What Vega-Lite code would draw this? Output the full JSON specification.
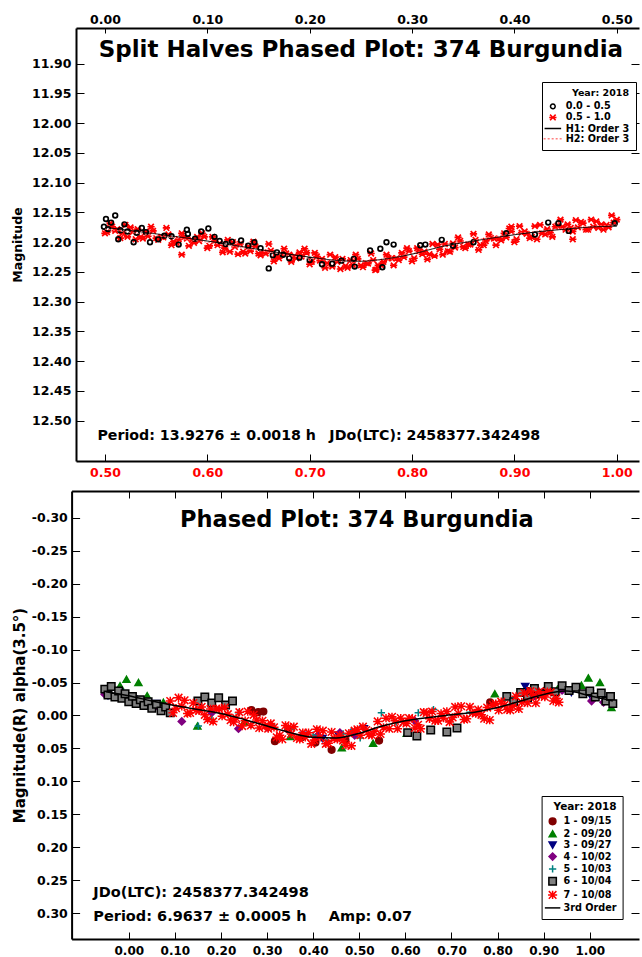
{
"$schema": "https://vega.github.io/schema/vega-lite/v6.json",
"background": "white",
"padding": {"left": 11, "top": 13, "right": 0, "bottom": 0},
"config": {
  "font": "DejaVu Sans",
  "view": {"stroke": null},
  "axis": {"labelFont": "DejaVu Sans", "labelFontWeight": "bold", "labelFontSize": 12.5, "labelColor": "black", "grid": false, "tickColor": "black", "domainColor": "black", "domainWidth": 2, "tickWidth": 1, "labelFlush": false, "labelOverlap": false, "labelBound": false, "titleFont": "DejaVu Sans", "titleFontWeight": "bold", "titleFontSize": 12.5, "titleColor": "black"},
  "legend": {"titleFont": "DejaVu Sans", "titleFontSize": 9.7, "titleFontWeight": "bold", "titleColor": "black", "labelFont": "DejaVu Sans", "labelFontSize": 9.7, "labelFontWeight": "bold", "labelColor": "black", "strokeColor": "black", "fillColor": "white", "padding": 6, "cornerRadius": 0, "symbolStrokeWidth": 1.5, "rowPadding": 3, "labelOffset": 7, "titleAnchor": "end", "titlePadding": 4}
},
"datasets": {
  "tp": [
{"s":"0.5 - 1.0","x":0.502,"y":12.183},{"s":"0.5 - 1.0","x":0.507,"y":12.174},{"s":"0.5 - 1.0","x":0.512,"y":12.178},{"s":"0.5 - 1.0","x":0.517,"y":12.185},{"s":"0.5 - 1.0","x":0.522,"y":12.191},{"s":"0.5 - 1.0","x":0.527,"y":12.183},{"s":"0.5 - 1.0","x":0.532,"y":12.178},{"s":"0.5 - 1.0","x":0.537,"y":12.194},{"s":"0.5 - 1.0","x":0.542,"y":12.190},{"s":"0.5 - 1.0","x":0.547,"y":12.181},
{"s":"0.5 - 1.0","x":0.552,"y":12.196},{"s":"0.5 - 1.0","x":0.557,"y":12.192},{"s":"0.5 - 1.0","x":0.562,"y":12.187},{"s":"0.5 - 1.0","x":0.567,"y":12.199},{"s":"0.5 - 1.0","x":0.572,"y":12.195},{"s":"0.5 - 1.0","x":0.577,"y":12.192},{"s":"0.5 - 1.0","x":0.582,"y":12.206},{"s":"0.5 - 1.0","x":0.587,"y":12.201},{"s":"0.5 - 1.0","x":0.592,"y":12.198},{"s":"0.5 - 1.0","x":0.597,"y":12.191},
{"s":"0.5 - 1.0","x":0.602,"y":12.206},{"s":"0.5 - 1.0","x":0.607,"y":12.198},{"s":"0.5 - 1.0","x":0.612,"y":12.202},{"s":"0.5 - 1.0","x":0.617,"y":12.210},{"s":"0.5 - 1.0","x":0.622,"y":12.216},{"s":"0.5 - 1.0","x":0.627,"y":12.208},{"s":"0.5 - 1.0","x":0.632,"y":12.203},{"s":"0.5 - 1.0","x":0.637,"y":12.219},{"s":"0.5 - 1.0","x":0.642,"y":12.215},{"s":"0.5 - 1.0","x":0.647,"y":12.207},
{"s":"0.5 - 1.0","x":0.652,"y":12.222},{"s":"0.5 - 1.0","x":0.657,"y":12.219},{"s":"0.5 - 1.0","x":0.662,"y":12.214},{"s":"0.5 - 1.0","x":0.667,"y":12.225},{"s":"0.5 - 1.0","x":0.672,"y":12.221},{"s":"0.5 - 1.0","x":0.677,"y":12.219},{"s":"0.5 - 1.0","x":0.682,"y":12.233},{"s":"0.5 - 1.0","x":0.687,"y":12.227},{"s":"0.5 - 1.0","x":0.692,"y":12.224},{"s":"0.5 - 1.0","x":0.697,"y":12.218},
{"s":"0.5 - 1.0","x":0.702,"y":12.233},{"s":"0.5 - 1.0","x":0.707,"y":12.224},{"s":"0.5 - 1.0","x":0.712,"y":12.228},{"s":"0.5 - 1.0","x":0.717,"y":12.235},{"s":"0.5 - 1.0","x":0.722,"y":12.241},{"s":"0.5 - 1.0","x":0.727,"y":12.233},{"s":"0.5 - 1.0","x":0.732,"y":12.228},{"s":"0.5 - 1.0","x":0.737,"y":12.243},{"s":"0.5 - 1.0","x":0.742,"y":12.238},{"s":"0.5 - 1.0","x":0.747,"y":12.228},
{"s":"0.5 - 1.0","x":0.752,"y":12.242},{"s":"0.5 - 1.0","x":0.757,"y":12.236},{"s":"0.5 - 1.0","x":0.762,"y":12.230},{"s":"0.5 - 1.0","x":0.767,"y":12.239},{"s":"0.5 - 1.0","x":0.772,"y":12.233},{"s":"0.5 - 1.0","x":0.777,"y":12.227},{"s":"0.5 - 1.0","x":0.782,"y":12.239},{"s":"0.5 - 1.0","x":0.787,"y":12.230},{"s":"0.5 - 1.0","x":0.792,"y":12.225},{"s":"0.5 - 1.0","x":0.797,"y":12.215},
{"s":"0.5 - 1.0","x":0.802,"y":12.227},{"s":"0.5 - 1.0","x":0.807,"y":12.215},{"s":"0.5 - 1.0","x":0.812,"y":12.216},{"s":"0.5 - 1.0","x":0.817,"y":12.220},{"s":"0.5 - 1.0","x":0.822,"y":12.223},{"s":"0.5 - 1.0","x":0.827,"y":12.212},{"s":"0.5 - 1.0","x":0.832,"y":12.203},{"s":"0.5 - 1.0","x":0.837,"y":12.216},{"s":"0.5 - 1.0","x":0.842,"y":12.209},{"s":"0.5 - 1.0","x":0.847,"y":12.198},
{"s":"0.5 - 1.0","x":0.852,"y":12.210},{"s":"0.5 - 1.0","x":0.857,"y":12.204},{"s":"0.5 - 1.0","x":0.862,"y":12.196},{"s":"0.5 - 1.0","x":0.867,"y":12.205},{"s":"0.5 - 1.0","x":0.872,"y":12.198},{"s":"0.5 - 1.0","x":0.877,"y":12.193},{"s":"0.5 - 1.0","x":0.882,"y":12.205},{"s":"0.5 - 1.0","x":0.887,"y":12.197},{"s":"0.5 - 1.0","x":0.892,"y":12.192},{"s":"0.5 - 1.0","x":0.897,"y":12.182},
{"s":"0.5 - 1.0","x":0.902,"y":12.195},{"s":"0.5 - 1.0","x":0.907,"y":12.184},{"s":"0.5 - 1.0","x":0.912,"y":12.186},{"s":"0.5 - 1.0","x":0.917,"y":12.191},{"s":"0.5 - 1.0","x":0.922,"y":12.195},{"s":"0.5 - 1.0","x":0.927,"y":12.185},{"s":"0.5 - 1.0","x":0.932,"y":12.178},{"s":"0.5 - 1.0","x":0.937,"y":12.191},{"s":"0.5 - 1.0","x":0.942,"y":12.172},{"s":"0.5 - 1.0","x":0.947,"y":12.174},
{"s":"0.5 - 1.0","x":0.952,"y":12.170},{"s":"0.5 - 1.0","x":0.957,"y":12.182},{"s":"0.5 - 1.0","x":0.962,"y":12.175},{"s":"0.5 - 1.0","x":0.967,"y":12.168},{"s":"0.5 - 1.0","x":0.972,"y":12.179},{"s":"0.5 - 1.0","x":0.977,"y":12.174},{"s":"0.5 - 1.0","x":0.982,"y":12.176},{"s":"0.5 - 1.0","x":0.987,"y":12.179},{"s":"0.5 - 1.0","x":0.992,"y":12.175},{"s":"0.5 - 1.0","x":0.997,"y":12.167},
{"s":"0.5 - 1.0","x":0.505,"y":12.168},{"s":"0.5 - 1.0","x":0.515,"y":12.193},{"s":"0.5 - 1.0","x":0.525,"y":12.175},{"s":"0.5 - 1.0","x":0.535,"y":12.191},{"s":"0.5 - 1.0","x":0.545,"y":12.174},{"s":"0.5 - 1.0","x":0.555,"y":12.191},{"s":"0.5 - 1.0","x":0.565,"y":12.205},{"s":"0.5 - 1.0","x":0.575,"y":12.185},{"s":"0.5 - 1.0","x":0.585,"y":12.196},{"s":"0.5 - 1.0","x":0.595,"y":12.185},
{"s":"0.5 - 1.0","x":0.605,"y":12.191},{"s":"0.5 - 1.0","x":0.615,"y":12.217},{"s":"0.5 - 1.0","x":0.625,"y":12.200},{"s":"0.5 - 1.0","x":0.635,"y":12.216},{"s":"0.5 - 1.0","x":0.645,"y":12.199},{"s":"0.5 - 1.0","x":0.655,"y":12.217},{"s":"0.5 - 1.0","x":0.665,"y":12.232},{"s":"0.5 - 1.0","x":0.675,"y":12.211},{"s":"0.5 - 1.0","x":0.685,"y":12.223},{"s":"0.5 - 1.0","x":0.695,"y":12.211},
{"s":"0.5 - 1.0","x":0.705,"y":12.218},{"s":"0.5 - 1.0","x":0.715,"y":12.243},{"s":"0.5 - 1.0","x":0.725,"y":12.225},{"s":"0.5 - 1.0","x":0.735,"y":12.240},{"s":"0.5 - 1.0","x":0.745,"y":12.221},{"s":"0.5 - 1.0","x":0.755,"y":12.235},{"s":"0.5 - 1.0","x":0.765,"y":12.246},{"s":"0.5 - 1.0","x":0.775,"y":12.221},{"s":"0.5 - 1.0","x":0.785,"y":12.227},{"s":"0.5 - 1.0","x":0.795,"y":12.210},
{"s":"0.5 - 1.0","x":0.805,"y":12.210},{"s":"0.5 - 1.0","x":0.815,"y":12.229},{"s":"0.5 - 1.0","x":0.825,"y":12.204},{"s":"0.5 - 1.0","x":0.835,"y":12.215},{"s":"0.5 - 1.0","x":0.845,"y":12.192},{"s":"0.5 - 1.0","x":0.855,"y":12.204},{"s":"0.5 - 1.0","x":0.865,"y":12.213},{"s":"0.5 - 1.0","x":0.875,"y":12.187},{"s":"0.5 - 1.0","x":0.885,"y":12.194},{"s":"0.5 - 1.0","x":0.895,"y":12.177},
{"s":"0.5 - 1.0","x":0.905,"y":12.173},{"s":"0.5 - 1.0","x":0.915,"y":12.193},{"s":"0.5 - 1.0","x":0.925,"y":12.171},{"s":"0.5 - 1.0","x":0.935,"y":12.184},{"s":"0.5 - 1.0","x":0.945,"y":12.162},{"s":"0.5 - 1.0","x":0.955,"y":12.176},{"s":"0.5 - 1.0","x":0.965,"y":12.166},{"s":"0.5 - 1.0","x":0.975,"y":12.162},{"s":"0.5 - 1.0","x":0.985,"y":12.170},{"s":"0.5 - 1.0","x":0.995,"y":12.155},
{"s":"0.5 - 1.0","x":0.510,"y":12.181},{"s":"0.5 - 1.0","x":0.520,"y":12.171},{"s":"0.5 - 1.0","x":0.530,"y":12.195},{"s":"0.5 - 1.0","x":0.540,"y":12.182},{"s":"0.5 - 1.0","x":0.550,"y":12.193},{"s":"0.5 - 1.0","x":0.560,"y":12.176},{"s":"0.5 - 1.0","x":0.570,"y":12.201},{"s":"0.5 - 1.0","x":0.580,"y":12.194},{"s":"0.5 - 1.0","x":0.590,"y":12.191},{"s":"0.5 - 1.0","x":0.600,"y":12.210},
{"s":"0.5 - 1.0","x":0.610,"y":12.205},{"s":"0.5 - 1.0","x":0.620,"y":12.196},{"s":"0.5 - 1.0","x":0.630,"y":12.220},{"s":"0.5 - 1.0","x":0.640,"y":12.207},{"s":"0.5 - 1.0","x":0.650,"y":12.219},{"s":"0.5 - 1.0","x":0.660,"y":12.203},{"s":"0.5 - 1.0","x":0.670,"y":12.227},{"s":"0.5 - 1.0","x":0.680,"y":12.221},{"s":"0.5 - 1.0","x":0.690,"y":12.217},{"s":"0.5 - 1.0","x":0.700,"y":12.237},
{"s":"0.5 - 1.0","x":0.710,"y":12.231},{"s":"0.5 - 1.0","x":0.720,"y":12.221},{"s":"0.5 - 1.0","x":0.730,"y":12.245},{"s":"0.5 - 1.0","x":0.740,"y":12.230},{"s":"0.5 - 1.0","x":0.750,"y":12.239},{"s":"0.5 - 1.0","x":0.760,"y":12.219},{"s":"0.5 - 1.0","x":0.770,"y":12.239},{"s":"0.5 - 1.0","x":0.780,"y":12.227},{"s":"0.5 - 1.0","x":0.790,"y":12.218},{"s":"0.5 - 1.0","x":0.800,"y":12.232},
{"s":"0.5 - 1.0","x":0.810,"y":12.220},{"s":"0.5 - 1.0","x":0.820,"y":12.203},{"s":"0.5 - 1.0","x":0.830,"y":12.221},{"s":"0.5 - 1.0","x":0.840,"y":12.202},{"s":"0.5 - 1.0","x":0.850,"y":12.208},{"s":"0.5 - 1.0","x":0.860,"y":12.186},{"s":"0.5 - 1.0","x":0.870,"y":12.205},{"s":"0.5 - 1.0","x":0.880,"y":12.194},{"s":"0.5 - 1.0","x":0.890,"y":12.185},{"s":"0.5 - 1.0","x":0.900,"y":12.200},
{"s":"0.5 - 1.0","x":0.910,"y":12.182},{"s":"0.5 - 1.0","x":0.920,"y":12.173},{"s":"0.5 - 1.0","x":0.930,"y":12.187},{"s":"0.5 - 1.0","x":0.940,"y":12.174},{"s":"0.5 - 1.0","x":0.950,"y":12.179},{"s":"0.5 - 1.0","x":0.960,"y":12.163},{"s":"0.5 - 1.0","x":0.970,"y":12.179},{"s":"0.5 - 1.0","x":0.980,"y":12.165},{"s":"0.5 - 1.0","x":0.990,"y":12.171},{"s":"0.5 - 1.0","x":1.000,"y":12.162},
{"s":"0.5 - 1.0","x":0.575,"y":12.221},{"s":"0.5 - 1.0","x":0.764,"y":12.247},{"s":"0.5 - 1.0","x":0.957,"y":12.195},{"s":"0.5 - 1.0","x":0.897,"y":12.174},{"s":"0.5 - 1.0","x":0.500,"y":12.185},
{"s":"0.0 - 0.5","x":0.499,"y":12.174},{"s":"0.0 - 0.5","x":0.501,"y":12.161},{"s":"0.0 - 0.5","x":0.503,"y":12.178},{"s":"0.0 - 0.5","x":0.506,"y":12.167},{"s":"0.0 - 0.5","x":0.510,"y":12.155},{"s":"0.0 - 0.5","x":0.513,"y":12.195},{"s":"0.0 - 0.5","x":0.515,"y":12.180},{"s":"0.0 - 0.5","x":0.519,"y":12.170},{"s":"0.0 - 0.5","x":0.522,"y":12.182},{"s":"0.0 - 0.5","x":0.528,"y":12.200},
{"s":"0.0 - 0.5","x":0.531,"y":12.184},{"s":"0.0 - 0.5","x":0.536,"y":12.176},{"s":"0.0 - 0.5","x":0.540,"y":12.183},{"s":"0.0 - 0.5","x":0.544,"y":12.200},{"s":"0.0 - 0.5","x":0.552,"y":12.195},{"s":"0.0 - 0.5","x":0.558,"y":12.189},{"s":"0.0 - 0.5","x":0.565,"y":12.190},{"s":"0.0 - 0.5","x":0.572,"y":12.204},{"s":"0.0 - 0.5","x":0.580,"y":12.179},{"s":"0.0 - 0.5","x":0.581,"y":12.186},
{"s":"0.0 - 0.5","x":0.588,"y":12.194},{"s":"0.0 - 0.5","x":0.594,"y":12.182},{"s":"0.0 - 0.5","x":0.601,"y":12.177},{"s":"0.0 - 0.5","x":0.607,"y":12.191},{"s":"0.0 - 0.5","x":0.612,"y":12.198},{"s":"0.0 - 0.5","x":0.618,"y":12.203},{"s":"0.0 - 0.5","x":0.624,"y":12.199},{"s":"0.0 - 0.5","x":0.633,"y":12.197},{"s":"0.0 - 0.5","x":0.640,"y":12.206},{"s":"0.0 - 0.5","x":0.646,"y":12.200},
{"s":"0.0 - 0.5","x":0.652,"y":12.210},{"s":"0.0 - 0.5","x":0.660,"y":12.244},{"s":"0.0 - 0.5","x":0.664,"y":12.222},{"s":"0.0 - 0.5","x":0.668,"y":12.217},{"s":"0.0 - 0.5","x":0.674,"y":12.221},{"s":"0.0 - 0.5","x":0.680,"y":12.227},{"s":"0.0 - 0.5","x":0.690,"y":12.226},{"s":"0.0 - 0.5","x":0.700,"y":12.230},{"s":"0.0 - 0.5","x":0.712,"y":12.237},{"s":"0.0 - 0.5","x":0.722,"y":12.236},
{"s":"0.0 - 0.5","x":0.731,"y":12.231},{"s":"0.0 - 0.5","x":0.743,"y":12.228},{"s":"0.0 - 0.5","x":0.744,"y":12.241},{"s":"0.0 - 0.5","x":0.759,"y":12.214},{"s":"0.0 - 0.5","x":0.769,"y":12.211},{"s":"0.0 - 0.5","x":0.771,"y":12.242},{"s":"0.0 - 0.5","x":0.775,"y":12.200},{"s":"0.0 - 0.5","x":0.782,"y":12.204},{"s":"0.0 - 0.5","x":0.808,"y":12.205},{"s":"0.0 - 0.5","x":0.813,"y":12.204},
{"s":"0.0 - 0.5","x":0.829,"y":12.196},{"s":"0.0 - 0.5","x":0.840,"y":12.206},{"s":"0.0 - 0.5","x":0.860,"y":12.200},{"s":"0.0 - 0.5","x":0.892,"y":12.185},{"s":"0.0 - 0.5","x":0.920,"y":12.187},{"s":"0.0 - 0.5","x":0.933,"y":12.167},{"s":"0.0 - 0.5","x":0.943,"y":12.168},{"s":"0.0 - 0.5","x":0.953,"y":12.181},{"s":"0.0 - 0.5","x":0.998,"y":12.168}
  ],
  "tf": [
{"s":"H2: Order 3","x":0.50,"y":12.178},{"s":"H2: Order 3","x":0.55,"y":12.189},{"s":"H2: Order 3","x":0.60,"y":12.200},{"s":"H2: Order 3","x":0.65,"y":12.214},{"s":"H2: Order 3","x":0.70,"y":12.227},{"s":"H2: Order 3","x":0.75,"y":12.233},{"s":"H2: Order 3","x":0.80,"y":12.219},{"s":"H2: Order 3","x":0.85,"y":12.200},{"s":"H2: Order 3","x":0.90,"y":12.186},{"s":"H2: Order 3","x":0.95,"y":12.177},{"s":"H2: Order 3","x":1.00,"y":12.171},
{"s":"H1: Order 3","x":0.50,"y":12.175},{"s":"H1: Order 3","x":0.55,"y":12.186},{"s":"H1: Order 3","x":0.60,"y":12.198},{"s":"H1: Order 3","x":0.65,"y":12.212},{"s":"H1: Order 3","x":0.70,"y":12.225},{"s":"H1: Order 3","x":0.73,"y":12.231},{"s":"H1: Order 3","x":0.75,"y":12.232},{"s":"H1: Order 3","x":0.77,"y":12.229},{"s":"H1: Order 3","x":0.80,"y":12.220},{"s":"H1: Order 3","x":0.83,"y":12.207},{"s":"H1: Order 3","x":0.86,"y":12.198},{"s":"H1: Order 3","x":0.89,"y":12.190},{"s":"H1: Order 3","x":0.92,"y":12.183},{"s":"H1: Order 3","x":0.95,"y":12.178},{"s":"H1: Order 3","x":0.98,"y":12.174},{"s":"H1: Order 3","x":1.00,"y":12.173}
  ],
  "bp": [
{"s":"1 - 09/15","x":0.266,"y":-0.008},{"s":"1 - 09/15","x":0.281,"y":-0.005},{"s":"1 - 09/15","x":0.292,"y":-0.006},{"s":"1 - 09/15","x":0.317,"y":0.039},{"s":"1 - 09/15","x":0.346,"y":0.021},{"s":"1 - 09/15","x":0.375,"y":0.033},{"s":"1 - 09/15","x":0.405,"y":0.041},{"s":"1 - 09/15","x":0.440,"y":0.052},{"s":"1 - 09/15","x":0.470,"y":0.037},{"s":"1 - 09/15","x":0.543,"y":0.038},{"s":"1 - 09/15","x":0.784,"y":-0.020},{"s":"1 - 09/15","x":0.867,"y":-0.037},{"s":"1 - 09/15","x":0.880,"y":-0.030},{"s":"1 - 09/15","x":0.905,"y":-0.038},
{"s":"2 - 09/20","x":-0.019,"y":-0.045},{"s":"2 - 09/20","x":-0.005,"y":-0.055},{"s":"2 - 09/20","x":0.021,"y":-0.050},{"s":"2 - 09/20","x":0.040,"y":-0.030},{"s":"2 - 09/20","x":0.075,"y":-0.020},{"s":"2 - 09/20","x":0.149,"y":0.016},{"s":"2 - 09/20","x":0.250,"y":0.010},{"s":"2 - 09/20","x":0.350,"y":0.032},{"s":"2 - 09/20","x":0.462,"y":0.049},{"s":"2 - 09/20","x":0.530,"y":0.042},{"s":"2 - 09/20","x":0.603,"y":0.027},{"s":"2 - 09/20","x":0.794,"y":-0.033},{"s":"2 - 09/20","x":0.930,"y":-0.040},{"s":"2 - 09/20","x":0.982,"y":-0.046},{"s":"2 - 09/20","x":0.997,"y":-0.057},{"s":"2 - 09/20","x":1.022,"y":-0.050},{"s":"2 - 09/20","x":1.047,"y":-0.012},
{"s":"3 - 09/27","x":-0.045,"y":-0.030},{"s":"3 - 09/27","x":-0.020,"y":-0.035},{"s":"3 - 09/27","x":0.010,"y":-0.025},{"s":"3 - 09/27","x":0.060,"y":-0.018},{"s":"3 - 09/27","x":0.380,"y":0.030},{"s":"3 - 09/27","x":0.420,"y":0.035},{"s":"3 - 09/27","x":0.455,"y":0.030},{"s":"3 - 09/27","x":0.490,"y":0.026},{"s":"3 - 09/27","x":0.510,"y":0.020},{"s":"3 - 09/27","x":0.860,"y":-0.044},{"s":"3 - 09/27","x":0.890,"y":-0.035},{"s":"3 - 09/27","x":0.960,"y":-0.035},{"s":"3 - 09/27","x":1.000,"y":-0.032},{"s":"3 - 09/27","x":1.040,"y":-0.024},
{"s":"4 - 10/02","x":-0.052,"y":-0.032},{"s":"4 - 10/02","x":-0.001,"y":-0.022},{"s":"4 - 10/02","x":0.060,"y":-0.015},{"s":"4 - 10/02","x":0.115,"y":0.009},{"s":"4 - 10/02","x":0.180,"y":-0.004},{"s":"4 - 10/02","x":0.238,"y":0.020},{"s":"4 - 10/02","x":0.300,"y":0.018},{"s":"4 - 10/02","x":0.410,"y":0.030},{"s":"4 - 10/02","x":0.458,"y":0.026},{"s":"4 - 10/02","x":0.490,"y":0.030},{"s":"4 - 10/02","x":0.620,"y":0.008},{"s":"4 - 10/02","x":0.880,"y":-0.030},{"s":"4 - 10/02","x":0.940,"y":-0.038},{"s":"4 - 10/02","x":1.004,"y":-0.022},{"s":"4 - 10/02","x":1.030,"y":-0.020},
{"s":"5 - 10/03","x":0.151,"y":0.016},{"s":"5 - 10/03","x":0.180,"y":0.006},{"s":"5 - 10/03","x":0.238,"y":-0.004},{"s":"5 - 10/03","x":0.310,"y":0.014},{"s":"5 - 10/03","x":0.353,"y":0.021},{"s":"5 - 10/03","x":0.400,"y":0.030},{"s":"5 - 10/03","x":0.430,"y":0.038},{"s":"5 - 10/03","x":0.465,"y":0.028},{"s":"5 - 10/03","x":0.483,"y":0.024},{"s":"5 - 10/03","x":0.502,"y":0.034},{"s":"5 - 10/03","x":0.548,"y":-0.004},{"s":"5 - 10/03","x":0.580,"y":0.010},{"s":"5 - 10/03","x":0.628,"y":-0.004},{"s":"5 - 10/03","x":0.661,"y":-0.009},{"s":"5 - 10/03","x":0.700,"y":0.003},{"s":"5 - 10/03","x":0.740,"y":-0.005},
{"s":"6 - 10/04","x":-0.052,"y":-0.040},{"s":"6 - 10/04","x":-0.045,"y":-0.031},{"s":"6 - 10/04","x":-0.038,"y":-0.044},{"s":"6 - 10/04","x":-0.030,"y":-0.028},{"s":"6 - 10/04","x":-0.022,"y":-0.037},{"s":"6 - 10/04","x":-0.015,"y":-0.026},{"s":"6 - 10/04","x":-0.008,"y":-0.033},{"s":"6 - 10/04","x":0.000,"y":-0.021},{"s":"6 - 10/04","x":0.008,"y":-0.029},{"s":"6 - 10/04","x":0.016,"y":-0.018},{"s":"6 - 10/04","x":0.025,"y":-0.024},{"s":"6 - 10/04","x":0.033,"y":-0.015},{"s":"6 - 10/04","x":0.042,"y":-0.021},{"s":"6 - 10/04","x":0.050,"y":-0.011},{"s":"6 - 10/04","x":0.060,"y":-0.017},{"s":"6 - 10/04","x":0.070,"y":-0.007},{"s":"6 - 10/04","x":0.080,"y":-0.013},{"s":"6 - 10/04","x":0.090,"y":-0.004},
{"s":"6 - 10/04","x":0.150,"y":-0.022},{"s":"6 - 10/04","x":0.165,"y":-0.028},{"s":"6 - 10/04","x":0.180,"y":-0.019},{"s":"6 - 10/04","x":0.195,"y":-0.027},{"s":"6 - 10/04","x":0.210,"y":-0.016},{"s":"6 - 10/04","x":0.225,"y":-0.022},{"s":"6 - 10/04","x":0.605,"y":0.026},{"s":"6 - 10/04","x":0.625,"y":0.031},{"s":"6 - 10/04","x":0.655,"y":0.022},{"s":"6 - 10/04","x":0.690,"y":0.025},{"s":"6 - 10/04","x":0.712,"y":0.019},
{"s":"6 - 10/04","x":0.820,"y":-0.029},{"s":"6 - 10/04","x":0.835,"y":-0.021},{"s":"6 - 10/04","x":0.850,"y":-0.035},{"s":"6 - 10/04","x":0.865,"y":-0.027},{"s":"6 - 10/04","x":0.880,"y":-0.041},{"s":"6 - 10/04","x":0.895,"y":-0.033},{"s":"6 - 10/04","x":0.910,"y":-0.044},{"s":"6 - 10/04","x":0.925,"y":-0.036},{"s":"6 - 10/04","x":0.940,"y":-0.045},{"s":"6 - 10/04","x":0.955,"y":-0.038},{"s":"6 - 10/04","x":0.970,"y":-0.043},{"s":"6 - 10/04","x":0.985,"y":-0.033},{"s":"6 - 10/04","x":1.000,"y":-0.037},{"s":"6 - 10/04","x":1.012,"y":-0.028},{"s":"6 - 10/04","x":1.025,"y":-0.034},{"s":"6 - 10/04","x":1.035,"y":-0.022},{"s":"6 - 10/04","x":1.045,"y":-0.029},{"s":"6 - 10/04","x":1.050,"y":-0.018},
{"s":"7 - 10/08","x":0.090,"y":-0.022},{"s":"7 - 10/08","x":0.1025,"y":-0.011},{"s":"7 - 10/08","x":0.115,"y":-0.014},{"s":"7 - 10/08","x":0.1275,"y":-0.003},{"s":"7 - 10/08","x":0.140,"y":-0.019},{"s":"7 - 10/08","x":0.1525,"y":-0.007},{"s":"7 - 10/08","x":0.165,"y":-0.001},{"s":"7 - 10/08","x":0.1775,"y":-0.010},{"s":"7 - 10/08","x":0.190,"y":-0.010},{"s":"7 - 10/08","x":0.2025,"y":0.001},
{"s":"7 - 10/08","x":0.215,"y":-0.002},{"s":"7 - 10/08","x":0.2275,"y":0.010},{"s":"7 - 10/08","x":0.240,"y":-0.005},{"s":"7 - 10/08","x":0.2525,"y":0.008},{"s":"7 - 10/08","x":0.265,"y":0.015},{"s":"7 - 10/08","x":0.2775,"y":0.007},{"s":"7 - 10/08","x":0.290,"y":0.008},{"s":"7 - 10/08","x":0.3025,"y":0.020},{"s":"7 - 10/08","x":0.315,"y":0.018},{"s":"7 - 10/08","x":0.3275,"y":0.030},
{"s":"7 - 10/08","x":0.340,"y":0.015},{"s":"7 - 10/08","x":0.3525,"y":0.028},{"s":"7 - 10/08","x":0.365,"y":0.034},{"s":"7 - 10/08","x":0.3775,"y":0.026},{"s":"7 - 10/08","x":0.390,"y":0.026},{"s":"7 - 10/08","x":0.4025,"y":0.037},{"s":"7 - 10/08","x":0.415,"y":0.033},{"s":"7 - 10/08","x":0.4275,"y":0.043},{"s":"7 - 10/08","x":0.440,"y":0.025},{"s":"7 - 10/08","x":0.4525,"y":0.036},
{"s":"7 - 10/08","x":0.465,"y":0.038},{"s":"7 - 10/08","x":0.4775,"y":0.027},{"s":"7 - 10/08","x":0.490,"y":0.023},{"s":"7 - 10/08","x":0.5025,"y":0.030},{"s":"7 - 10/08","x":0.515,"y":0.022},{"s":"7 - 10/08","x":0.5275,"y":0.030},{"s":"7 - 10/08","x":0.540,"y":0.009},{"s":"7 - 10/08","x":0.5525,"y":0.018},{"s":"7 - 10/08","x":0.565,"y":0.020},{"s":"7 - 10/08","x":0.5775,"y":0.008},
{"s":"7 - 10/08","x":0.590,"y":0.004},{"s":"7 - 10/08","x":0.6025,"y":0.012},{"s":"7 - 10/08","x":0.615,"y":0.005},{"s":"7 - 10/08","x":0.6275,"y":0.014},{"s":"7 - 10/08","x":0.640,"y":-0.005},{"s":"7 - 10/08","x":0.6525,"y":0.005},{"s":"7 - 10/08","x":0.665,"y":0.008},{"s":"7 - 10/08","x":0.6775,"y":-0.003},{"s":"7 - 10/08","x":0.690,"y":-0.006},{"s":"7 - 10/08","x":0.7025,"y":0.003},
{"s":"7 - 10/08","x":0.715,"y":-0.003},{"s":"7 - 10/08","x":0.7275,"y":0.006},{"s":"7 - 10/08","x":0.740,"y":-0.013},{"s":"7 - 10/08","x":0.7525,"y":-0.003},{"s":"7 - 10/08","x":0.765,"y":-0.001},{"s":"7 - 10/08","x":0.7775,"y":-0.012},{"s":"7 - 10/08","x":0.790,"y":-0.016},{"s":"7 - 10/08","x":0.8025,"y":-0.008},{"s":"7 - 10/08","x":0.815,"y":-0.016},{"s":"7 - 10/08","x":0.8275,"y":-0.008},
{"s":"7 - 10/08","x":0.840,"y":-0.029},{"s":"7 - 10/08","x":0.8525,"y":-0.020},{"s":"7 - 10/08","x":0.865,"y":-0.019},{"s":"7 - 10/08","x":0.8775,"y":-0.031},{"s":"7 - 10/08","x":0.890,"y":-0.036},{"s":"7 - 10/08","x":0.9025,"y":-0.028},{"s":"7 - 10/08","x":0.915,"y":-0.035},{"s":"7 - 10/08","x":0.9275,"y":-0.026},
{"s":"7 - 10/08","x":0.096,"y":-0.004},{"s":"7 - 10/08","x":0.121,"y":-0.023},{"s":"7 - 10/08","x":0.146,"y":-0.008},{"s":"7 - 10/08","x":0.171,"y":0.006},{"s":"7 - 10/08","x":0.196,"y":-0.010},{"s":"7 - 10/08","x":0.221,"y":0.007},{"s":"7 - 10/08","x":0.246,"y":0.016},{"s":"7 - 10/08","x":0.271,"y":-0.001},{"s":"7 - 10/08","x":0.296,"y":0.016},{"s":"7 - 10/08","x":0.321,"y":0.033},
{"s":"7 - 10/08","x":0.346,"y":0.018},{"s":"7 - 10/08","x":0.371,"y":0.036},{"s":"7 - 10/08","x":0.396,"y":0.043},{"s":"7 - 10/08","x":0.421,"y":0.023},{"s":"7 - 10/08","x":0.446,"y":0.035},{"s":"7 - 10/08","x":0.471,"y":0.045},{"s":"7 - 10/08","x":0.496,"y":0.021},{"s":"7 - 10/08","x":0.521,"y":0.029},{"s":"7 - 10/08","x":0.546,"y":0.028},{"s":"7 - 10/08","x":0.571,"y":0.002},
{"s":"7 - 10/08","x":0.596,"y":0.010},{"s":"7 - 10/08","x":0.621,"y":0.019},{"s":"7 - 10/08","x":0.646,"y":-0.004},{"s":"7 - 10/08","x":0.671,"y":0.008},{"s":"7 - 10/08","x":0.696,"y":0.010},{"s":"7 - 10/08","x":0.721,"y":-0.014},{"s":"7 - 10/08","x":0.746,"y":-0.004},{"s":"7 - 10/08","x":0.771,"y":0.005},{"s":"7 - 10/08","x":0.796,"y":-0.018},{"s":"7 - 10/08","x":0.821,"y":-0.009},
{"s":"7 - 10/08","x":0.846,"y":-0.010},{"s":"7 - 10/08","x":0.871,"y":-0.037},{"s":"7 - 10/08","x":0.896,"y":-0.030},{"s":"7 - 10/08","x":0.921,"y":-0.022},
{"s":"7 - 10/08","x":0.108,"y":-0.027},{"s":"7 - 10/08","x":0.133,"y":-0.004},{"s":"7 - 10/08","x":0.158,"y":-0.013},{"s":"7 - 10/08","x":0.183,"y":0.009},{"s":"7 - 10/08","x":0.208,"y":-0.012},{"s":"7 - 10/08","x":0.233,"y":0.004},{"s":"7 - 10/08","x":0.258,"y":-0.006},{"s":"7 - 10/08","x":0.283,"y":0.019},{"s":"7 - 10/08","x":0.308,"y":0.012},{"s":"7 - 10/08","x":0.333,"y":0.036},
{"s":"7 - 10/08","x":0.358,"y":0.017},{"s":"7 - 10/08","x":0.383,"y":0.033},{"s":"7 - 10/08","x":0.408,"y":0.021},{"s":"7 - 10/08","x":0.433,"y":0.042},{"s":"7 - 10/08","x":0.458,"y":0.030},{"s":"7 - 10/08","x":0.483,"y":0.046},{"s":"7 - 10/08","x":0.508,"y":0.017},{"s":"7 - 10/08","x":0.533,"y":0.024},{"s":"7 - 10/08","x":0.558,"y":0.004},{"s":"7 - 10/08","x":0.583,"y":0.020},
{"s":"7 - 10/08","x":0.608,"y":0.004},{"s":"7 - 10/08","x":0.633,"y":0.020},{"s":"7 - 10/08","x":0.658,"y":-0.006},{"s":"7 - 10/08","x":0.683,"y":0.004},{"s":"7 - 10/08","x":0.708,"y":-0.013},{"s":"7 - 10/08","x":0.733,"y":0.005},{"s":"7 - 10/08","x":0.758,"y":-0.009},{"s":"7 - 10/08","x":0.783,"y":0.007},{"s":"7 - 10/08","x":0.808,"y":-0.021},{"s":"7 - 10/08","x":0.833,"y":-0.014},
{"s":"7 - 10/08","x":0.858,"y":-0.034},{"s":"7 - 10/08","x":0.883,"y":-0.019},{"s":"7 - 10/08","x":0.908,"y":-0.036},{"s":"7 - 10/08","x":0.933,"y":-0.020}
  ],
  "bf": [
{"s":"3rd Order","x":-0.05,"y":-0.036},{"s":"3rd Order","x":0.00,"y":-0.030},{"s":"3rd Order","x":0.05,"y":-0.022},{"s":"3rd Order","x":0.10,"y":-0.015},{"s":"3rd Order","x":0.15,"y":-0.009},{"s":"3rd Order","x":0.20,"y":-0.003},{"s":"3rd Order","x":0.25,"y":0.006},{"s":"3rd Order","x":0.30,"y":0.016},{"s":"3rd Order","x":0.35,"y":0.026},{"s":"3rd Order","x":0.40,"y":0.033},{"s":"3rd Order","x":0.45,"y":0.034},{"s":"3rd Order","x":0.50,"y":0.027},
{"s":"3rd Order","x":0.55,"y":0.016},{"s":"3rd Order","x":0.60,"y":0.008},{"s":"3rd Order","x":0.65,"y":0.003},{"s":"3rd Order","x":0.70,"y":-0.001},{"s":"3rd Order","x":0.75,"y":-0.005},{"s":"3rd Order","x":0.80,"y":-0.012},{"s":"3rd Order","x":0.85,"y":-0.022},{"s":"3rd Order","x":0.90,"y":-0.032},{"s":"3rd Order","x":0.95,"y":-0.037},{"s":"3rd Order","x":1.00,"y":-0.030},{"s":"3rd Order","x":1.05,"y":-0.022}
  ]
},
"concat": [
  {
    "width": 563, "height": 433,
    "layer": [
      {
        "data": {"name": "tp"},
        "mark": {"type": "point", "filled": false, "strokeWidth": 1.7, "opacity": 1},
        "encoding": {
          "x": {"field": "x", "type": "quantitative", "scale": {"domain": [0.4717, 1.0217], "nice": false, "zero": false}, "axis": {"orient": "bottom", "values": [0.5, 0.6, 0.7, 0.8, 0.9, 1], "format": ".2f", "labelColor": "red", "tickSize": -7, "labelPadding": 12, "title": null}},
          "y": {"field": "y", "type": "quantitative", "scale": {"domain": [11.84, 12.5677], "reverse": true, "nice": false, "zero": false}, "axis": {"orient": "left", "values": [11.9, 11.95, 12.0, 12.05, 12.1, 12.15, 12.2, 12.25, 12.3, 12.35, 12.4, 12.45, 12.5], "format": ".2f", "tickSize": -8, "labelPadding": 13, "title": "Magnitude", "titlePadding": 7}},
          "color": {"field": "s", "type": "nominal", "scale": {"domain": ["0.0 - 0.5", "0.5 - 1.0", "H1: Order 3", "H2: Order 3"], "range": ["black", "red", "black", "#ff8080"]}, "legend": {"title": "Year: 2018", "orient": "none", "legendX": 466, "legendY": 54, "titleFontSize": 9.5, "padding": 6, "labelOffset": 8, "rowPadding": -0.9}},
          "shape": {"field": "s", "type": "nominal", "scale": {"domain": ["0.0 - 0.5", "0.5 - 1.0", "H1: Order 3", "H2: Order 3"], "range": ["circle", "M-1,-1L1,1M1,-1L-1,1M-1.3,0L1.3,0", "M-2.6,0L2.6,0", "M-2.6,0L2.6,0"]}, "legend": {"title": "Year: 2018", "orient": "none", "legendX": 466, "legendY": 54, "titleFontSize": 9.5, "padding": 6, "labelOffset": 8, "rowPadding": -0.9}},
          "size": {"field": "s", "type": "nominal", "scale": {"domain": ["0.0 - 0.5", "0.5 - 1.0", "H1: Order 3", "H2: Order 3"], "range": [22, 50, 50, 50]}, "legend": {"title": "Year: 2018", "orient": "none", "legendX": 466, "legendY": 54, "titleFontSize": 9.5, "padding": 6, "labelOffset": 8, "rowPadding": -0.9}}
        }
      },
      {
        "data": {"name": "tf"},
        "mark": {"type": "line", "strokeWidth": 1, "interpolate": "monotone"},
        "encoding": {
          "x": {"field": "x", "type": "quantitative", "scale": {"domain": [0.4717, 1.0217], "nice": false, "zero": false}, "axis": {"orient": "top", "values": [0.5, 0.6, 0.7, 0.8, 0.9, 1], "labelExpr": "format(datum.value - 0.5, '.2f')", "tickSize": -5, "labelPadding": 7, "title": null}},
          "y": {"field": "y", "type": "quantitative", "scale": {"domain": [11.84, 12.5677], "reverse": true, "nice": false, "zero": false}, "axis": {"orient": "right", "values": [11.9, 11.95, 12.0, 12.05, 12.1, 12.15, 12.2, 12.25, 12.3, 12.35, 12.4, 12.45, 12.5], "labels": false, "domain": false, "tickSize": -8, "title": null}},
          "color": {"field": "s", "type": "nominal", "scale": {"domain": ["0.0 - 0.5", "0.5 - 1.0", "H1: Order 3", "H2: Order 3"], "range": ["black", "red", "black", "#ff8080"]}, "legend": {"title": "Year: 2018", "orient": "none", "legendX": 466, "legendY": 54, "titleFontSize": 9.5, "padding": 6, "labelOffset": 8, "rowPadding": -0.9}},
          "strokeDash": {"field": "s", "type": "nominal", "scale": {"domain": ["0.0 - 0.5", "0.5 - 1.0", "H1: Order 3", "H2: Order 3"], "range": [[1, 0], [1, 0], [1, 0], [2, 2]]}, "legend": {"title": "Year: 2018", "orient": "none", "legendX": 466, "legendY": 54, "titleFontSize": 9.5, "padding": 6, "labelOffset": 8, "rowPadding": -0.9}}
        }
      },
      {
        "data": {"values": [{}]},
        "mark": {"type": "text", "font": "DejaVu Sans", "fontWeight": "bold", "fontSize": 23, "align": "center", "baseline": "alphabetic", "color": "black"},
        "encoding": {
          "x": {"datum": 0.75, "type": "quantitative", "scale": {"domain": [0.4717, 1.0217], "nice": false, "zero": false}, "axis": null},
          "y": {"datum": 11.8894, "type": "quantitative", "scale": {"domain": [11.84, 12.5677], "reverse": true, "nice": false, "zero": false}, "axis": null},
          "text": {"value": "Split Halves Phased Plot: 374 Burgundia"}
        }
      },
      {
        "data": {"values": [{}]},
        "mark": {"type": "text", "font": "DejaVu Sans", "fontWeight": "bold", "fontSize": 14.2, "align": "left", "baseline": "middle", "color": "black"},
        "encoding": {
          "x": {"datum": 0.4926, "type": "quantitative", "scale": {"domain": [0.4717, 1.0217], "nice": false, "zero": false}, "axis": null},
          "y": {"datum": 12.525, "type": "quantitative", "scale": {"domain": [11.84, 12.5677], "reverse": true, "nice": false, "zero": false}, "axis": null},
          "text": {"value": "Period: 13.9276 ± 0.0018 h"}
        }
      },
      {
        "data": {"values": [{}]},
        "mark": {"type": "text", "font": "DejaVu Sans", "fontWeight": "bold", "fontSize": 14.2, "align": "left", "baseline": "middle", "color": "black"},
        "encoding": {
          "x": {"datum": 0.7192, "type": "quantitative", "scale": {"domain": [0.4717, 1.0217], "nice": false, "zero": false}, "axis": null},
          "y": {"datum": 12.525, "type": "quantitative", "scale": {"domain": [11.84, 12.5677], "reverse": true, "nice": false, "zero": false}, "axis": null},
          "text": {"value": "JDo(LTC): 2458377.342498"}
        }
      }
    ],
    "resolve": {"axis": {"x": "independent", "y": "independent"}}
  },
  {
    "width": 563, "height": 448,
    "layer": [
      {
        "data": {"name": "bp"},
        "mark": {"type": "point", "filled": true, "strokeWidth": 1.5, "opacity": 1},
        "encoding": {
          "x": {"field": "x", "type": "quantitative", "scale": {"domain": [-0.124, 1.1068], "range": [-4.4, 563], "nice": false, "zero": false}, "axis": {"orient": "bottom", "values": [0, 0.1, 0.2, 0.3, 0.4, 0.5, 0.6, 0.7, 0.8, 0.9, 1], "format": ".2f", "labelFontSize": 12, "tickSize": -7, "labelPadding": 13, "title": null}},
          "y": {"field": "y", "type": "quantitative", "scale": {"domain": [-0.3405, 0.339], "reverse": true, "nice": false, "zero": false}, "axis": {"orient": "left", "offset": 4.4, "values": [-0.3, -0.25, -0.2, -0.15, -0.1, -0.05, 0, 0.05, 0.1, 0.15, 0.2, 0.25, 0.3], "labelExpr": "replace(format(datum.value, '.2f'), '−', '-')", "tickSize": -8, "labelPadding": 12.3, "title": "Magnitude(R) alpha(3.5°)", "titleFontSize": 15, "titlePadding": 3.5}},
          "fill": {"field": "s", "type": "nominal", "scale": {"domain": ["1 - 09/15", "2 - 09/20", "3 - 09/27", "4 - 10/02", "5 - 10/03", "6 - 10/04", "7 - 10/08", "3rd Order"], "range": ["#800000", "#008000", "#000080", "#800080", "#008080", "#808080", "red", "transparent"]}, "legend": {"title": "Year: 2018", "orient": "none", "legendX": 465.6, "legendY": 305, "titleFontSize": 10.5, "labelOffset": 5.8, "rowPadding": -1.6}},
          "stroke": {"field": "s", "type": "nominal", "scale": {"domain": ["1 - 09/15", "2 - 09/20", "3 - 09/27", "4 - 10/02", "5 - 10/03", "6 - 10/04", "7 - 10/08", "3rd Order"], "range": ["#800000", "#008000", "#000080", "#800080", "#008080", "black", "red", "black"]}, "legend": {"title": "Year: 2018", "orient": "none", "legendX": 465.6, "legendY": 305, "titleFontSize": 10.5, "labelOffset": 5.8, "rowPadding": -1.6}},
          "shape": {"field": "s", "type": "nominal", "scale": {"domain": ["1 - 09/15", "2 - 09/20", "3 - 09/27", "4 - 10/02", "5 - 10/03", "6 - 10/04", "7 - 10/08", "3rd Order"], "range": ["circle", "triangle-up", "triangle-down", "diamond", "M-1,0L1,0M0,-1L0,1", "square", "M-1,-1L1,1M1,-1L-1,1M-1.2,0L1.2,0M0,-1.1L0,1.1", "M-2,0L2,0"]}, "legend": {"title": "Year: 2018", "orient": "none", "legendX": 465.6, "legendY": 305, "titleFontSize": 10.5, "labelOffset": 5.8, "rowPadding": -1.6}},
          "size": {"field": "s", "type": "nominal", "scale": {"domain": ["1 - 09/15", "2 - 09/20", "3 - 09/27", "4 - 10/02", "5 - 10/03", "6 - 10/04", "7 - 10/08", "3rd Order"], "range": [45, 60, 60, 50, 80, 70, 80, 60]}, "legend": {"title": "Year: 2018", "orient": "none", "legendX": 465.6, "legendY": 305, "titleFontSize": 10.5, "labelOffset": 5.8, "rowPadding": -1.6}}
        }
      },
      {
        "data": {"name": "bf"},
        "mark": {"type": "line", "strokeWidth": 1.5, "interpolate": "monotone"},
        "encoding": {
          "x": {"field": "x", "type": "quantitative", "scale": {"domain": [-0.124, 1.1068], "range": [-4.4, 563], "nice": false, "zero": false}, "axis": {"orient": "top", "values": [0, 0.1, 0.2, 0.3, 0.4, 0.5, 0.6, 0.7, 0.8, 0.9, 1], "labels": false, "tickSize": -7, "title": null}},
          "y": {"field": "y", "type": "quantitative", "scale": {"domain": [-0.3405, 0.339], "reverse": true, "nice": false, "zero": false}, "axis": {"orient": "right", "values": [-0.3, -0.25, -0.2, -0.15, -0.1, -0.05, 0, 0.05, 0.1, 0.15, 0.2, 0.25, 0.3], "labels": false, "domain": false, "tickSize": -8, "title": null}},
          "stroke": {"field": "s", "type": "nominal", "scale": {"domain": ["1 - 09/15", "2 - 09/20", "3 - 09/27", "4 - 10/02", "5 - 10/03", "6 - 10/04", "7 - 10/08", "3rd Order"], "range": ["#800000", "#008000", "#000080", "#800080", "#008080", "black", "red", "black"]}, "legend": {"title": "Year: 2018", "orient": "none", "legendX": 465.6, "legendY": 305, "titleFontSize": 10.5, "labelOffset": 5.8, "rowPadding": -1.6}}
        }
      },
      {
        "data": {"values": [{}]},
        "mark": {"type": "text", "font": "DejaVu Sans", "fontWeight": "bold", "fontSize": 22.5, "align": "center", "baseline": "alphabetic", "color": "black"},
        "encoding": {
          "x": {"datum": 0.4947, "type": "quantitative", "scale": {"domain": [-0.124, 1.1068], "range": [-4.4, 563], "nice": false, "zero": false}, "axis": null},
          "y": {"datum": -0.2859, "type": "quantitative", "scale": {"domain": [-0.3405, 0.339], "reverse": true, "nice": false, "zero": false}, "axis": null},
          "text": {"value": "Phased Plot: 374 Burgundia"}
        }
      },
      {
        "data": {"values": [{}]},
        "mark": {"type": "text", "font": "DejaVu Sans", "fontWeight": "bold", "fontSize": 14.5, "align": "left", "baseline": "middle", "color": "black"},
        "encoding": {
          "x": {"datum": -0.077, "type": "quantitative", "scale": {"domain": [-0.124, 1.1068], "range": [-4.4, 563], "nice": false, "zero": false}, "axis": null},
          "y": {"datum": 0.2687, "type": "quantitative", "scale": {"domain": [-0.3405, 0.339], "reverse": true, "nice": false, "zero": false}, "axis": null},
          "text": {"value": "JDo(LTC): 2458377.342498"}
        }
      },
      {
        "data": {"values": [{}]},
        "mark": {"type": "text", "font": "DejaVu Sans", "fontWeight": "bold", "fontSize": 14.5, "align": "left", "baseline": "middle", "color": "black"},
        "encoding": {
          "x": {"datum": -0.077, "type": "quantitative", "scale": {"domain": [-0.124, 1.1068], "range": [-4.4, 563], "nice": false, "zero": false}, "axis": null},
          "y": {"datum": 0.306, "type": "quantitative", "scale": {"domain": [-0.3405, 0.339], "reverse": true, "nice": false, "zero": false}, "axis": null},
          "text": {"value": "Period: 6.9637 ± 0.0005 h"}
        }
      },
      {
        "data": {"values": [{}]},
        "mark": {"type": "text", "font": "DejaVu Sans", "fontWeight": "bold", "fontSize": 14.5, "align": "left", "baseline": "middle", "color": "black"},
        "encoding": {
          "x": {"datum": 0.434, "type": "quantitative", "scale": {"domain": [-0.124, 1.1068], "range": [-4.4, 563], "nice": false, "zero": false}, "axis": null},
          "y": {"datum": 0.306, "type": "quantitative", "scale": {"domain": [-0.3405, 0.339], "reverse": true, "nice": false, "zero": false}, "axis": null},
          "text": {"value": "Amp: 0.07"}
        }
      }
    ],
    "resolve": {"axis": {"x": "independent", "y": "independent"}}
  }
],
"columns": 1,
"align": "none",
"spacing": 11,
"resolve": {
  "scale": {"color": "independent", "shape": "independent", "size": "independent", "strokeDash": "independent", "fill": "independent", "stroke": "independent"},
  "legend": {"color": "independent", "shape": "independent", "size": "independent", "strokeDash": "independent", "fill": "independent", "stroke": "independent"}
}
}
